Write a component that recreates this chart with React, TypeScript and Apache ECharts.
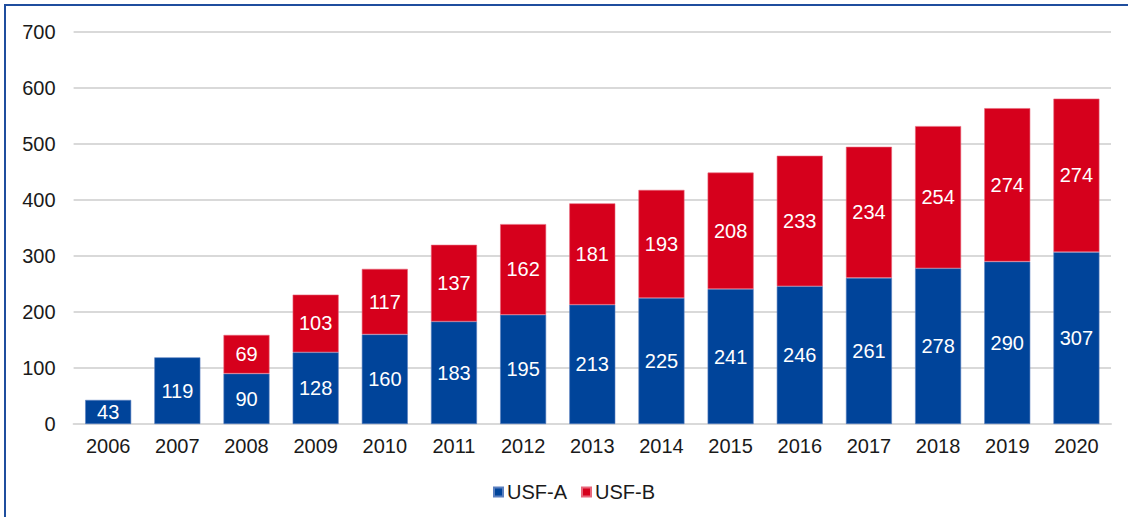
import React, { useEffect, useRef } from "react";
import * as echarts from "echarts";

const years = ["2006","2007","2008","2009","2010","2011","2012","2013","2014","2015","2016","2017","2018","2019","2020"];
const usfA = [43,119,90,128,160,183,195,213,225,241,246,261,278,290,307];
const usfB: (number | null)[] = [null,null,69,103,117,137,162,181,193,208,233,234,254,274,274];
const yTicks = [0,100,200,300,400,500,600,700];

const BLUE = "#00449A";
const RED = "#D6001C";
const FONT = "'Liberation Sans', Arial, sans-serif";

export default function App() {
  const ref = useRef<HTMLDivElement>(null);
  useEffect(() => {
    document.body.style.margin = "0";
    const chart = echarts.init(ref.current!, null, { renderer: "svg" });
    const label = {
      show: true,
      position: "inside",
      color: "#ffffff",
      fontSize: 20,
      fontFamily: FONT,
    };
    chart.setOption({
      animation: false,
      textStyle: { fontFamily: FONT },
      grid: { left: 73.6, right: 17, top: 32, height: 392 },
      legend: {
        left: 493,
        top: 482,
        padding: 0,
        itemWidth: 9,
        itemHeight: 9,
        itemGap: 14,
        icon: "rect",
        textStyle: { fontSize: 20, color: "#1a1a1a", fontFamily: FONT, padding: [0, 0, 0, -1] },
        data: ["USF-A", "USF-B"],
      },
      xAxis: {
        type: "category",
        data: years,
        axisLine: { lineStyle: { color: "#d9d9d9", width: 2 } },
        axisTick: { show: false },
        axisLabel: { color: "#1a1a1a", fontSize: 20, margin: 12, fontFamily: FONT },
      },
      yAxis: {
        type: "value",
        min: yTicks[0],
        max: yTicks[yTicks.length - 1],
        interval: 100,
        axisLine: { show: false },
        axisTick: { show: false },
        splitLine: { lineStyle: { color: "#d9d9d9", width: 2 } },
        axisLabel: { color: "#1a1a1a", fontSize: 20, margin: 18, fontFamily: FONT },
      },
      graphic: [
        {
          type: "polyline",
          shape: { points: [[5, 530], [5, 5], [1140, 5]] },
          style: { stroke: "#1F4E9E", lineWidth: 2, fill: null },
          z: 100,
        },
      ],
      series: [
        {
          name: "USF-A",
          type: "bar",
          stack: "total",
          data: usfA,
          barWidth: 46,
          itemStyle: { color: BLUE, borderColor: "#5a7fbf", borderWidth: 0.6 },
          label,
        },
        {
          name: "USF-B",
          type: "bar",
          stack: "total",
          data: usfB,
          barWidth: 46,
          itemStyle: { color: RED, borderColor: "#e8667a", borderWidth: 0.6 },
          label,
        },
      ],
    });
    return () => chart.dispose();
  }, []);
  return <div ref={ref} style={{ width: 1128, height: 517 }} />;
}
